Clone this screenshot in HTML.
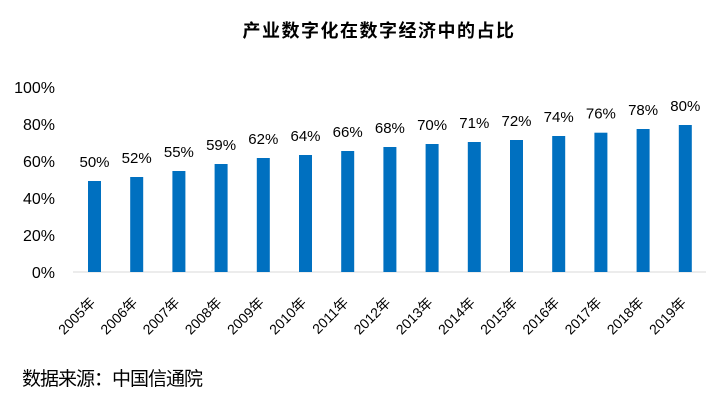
<!DOCTYPE html>
<html><head><meta charset="utf-8"><style>
html,body{margin:0;padding:0;background:#fff;}
svg{display:block;}
text{font-family:"Liberation Sans","Noto Sans CJK SC",sans-serif;fill:#000;}
</style></head><body>
<svg width="718" height="403" viewBox="0 0 718 403" xmlns="http://www.w3.org/2000/svg">
<rect width="718" height="403" fill="#fff"/>
<text x="379" y="37" text-anchor="middle" font-size="18" font-weight="bold" letter-spacing="1.5" style="font-family:'Noto Sans CJK SC',sans-serif">产业数字化在数字经济中的占比</text>
<g font-size="16" text-anchor="end">
<text x="55" y="93">100%</text>
<text x="55" y="130">80%</text>
<text x="55" y="167">60%</text>
<text x="55" y="204">40%</text>
<text x="55" y="241">20%</text>
<text x="55" y="278">0%</text>
</g>
<line x1="73" y1="272" x2="706" y2="272" stroke="#d9d9d9" stroke-width="1"/>
<g fill="#0070C0">
<rect x="88" y="181" width="13" height="91"/>
<rect x="130.2" y="177" width="13" height="95"/>
<rect x="172.4" y="171" width="13" height="101"/>
<rect x="214.6" y="164" width="13" height="108"/>
<rect x="256.8" y="158" width="13" height="114"/>
<rect x="299" y="155" width="13" height="117"/>
<rect x="341.2" y="151" width="13" height="121"/>
<rect x="383.4" y="147" width="13" height="125"/>
<rect x="425.6" y="144" width="13" height="128"/>
<rect x="467.8" y="142" width="13" height="130"/>
<rect x="510" y="140" width="13" height="132"/>
<rect x="552.2" y="136" width="13" height="136"/>
<rect x="594.4" y="132.7" width="13" height="139.3"/>
<rect x="636.6" y="129" width="13" height="143"/>
<rect x="678.8" y="125" width="13" height="147"/>
</g>
<g font-size="15" text-anchor="middle">
<text x="94.5" y="167">50%</text>
<text x="136.7" y="163">52%</text>
<text x="178.9" y="157">55%</text>
<text x="221.1" y="150">59%</text>
<text x="263.3" y="144">62%</text>
<text x="305.5" y="141">64%</text>
<text x="347.7" y="137">66%</text>
<text x="389.9" y="133">68%</text>
<text x="432.1" y="130">70%</text>
<text x="474.3" y="128">71%</text>
<text x="516.5" y="126">72%</text>
<text x="558.7" y="122">74%</text>
<text x="600.9" y="118.7">76%</text>
<text x="643.1" y="115">78%</text>
<text x="685.3" y="111">80%</text>
</g>
<g font-size="14" text-anchor="end">
<text transform="translate(96.1,303.5) rotate(-45)">2005年</text>
<text transform="translate(138.3,303.5) rotate(-45)">2006年</text>
<text transform="translate(180.5,303.5) rotate(-45)">2007年</text>
<text transform="translate(222.7,303.5) rotate(-45)">2008年</text>
<text transform="translate(264.9,303.5) rotate(-45)">2009年</text>
<text transform="translate(307.1,303.5) rotate(-45)">2010年</text>
<text transform="translate(349.3,303.5) rotate(-45)">2011年</text>
<text transform="translate(391.5,303.5) rotate(-45)">2012年</text>
<text transform="translate(433.7,303.5) rotate(-45)">2013年</text>
<text transform="translate(475.9,303.5) rotate(-45)">2014年</text>
<text transform="translate(518.1,303.5) rotate(-45)">2015年</text>
<text transform="translate(560.3,303.5) rotate(-45)">2016年</text>
<text transform="translate(602.5,303.5) rotate(-45)">2017年</text>
<text transform="translate(644.7,303.5) rotate(-45)">2018年</text>
<text transform="translate(686.9,303.5) rotate(-45)">2019年</text>
</g>
<text x="22" y="385" font-size="19" letter-spacing="-1" style="font-family:'Noto Sans CJK SC',sans-serif">数据来源：中国信通院</text>
</svg>
</body></html>
